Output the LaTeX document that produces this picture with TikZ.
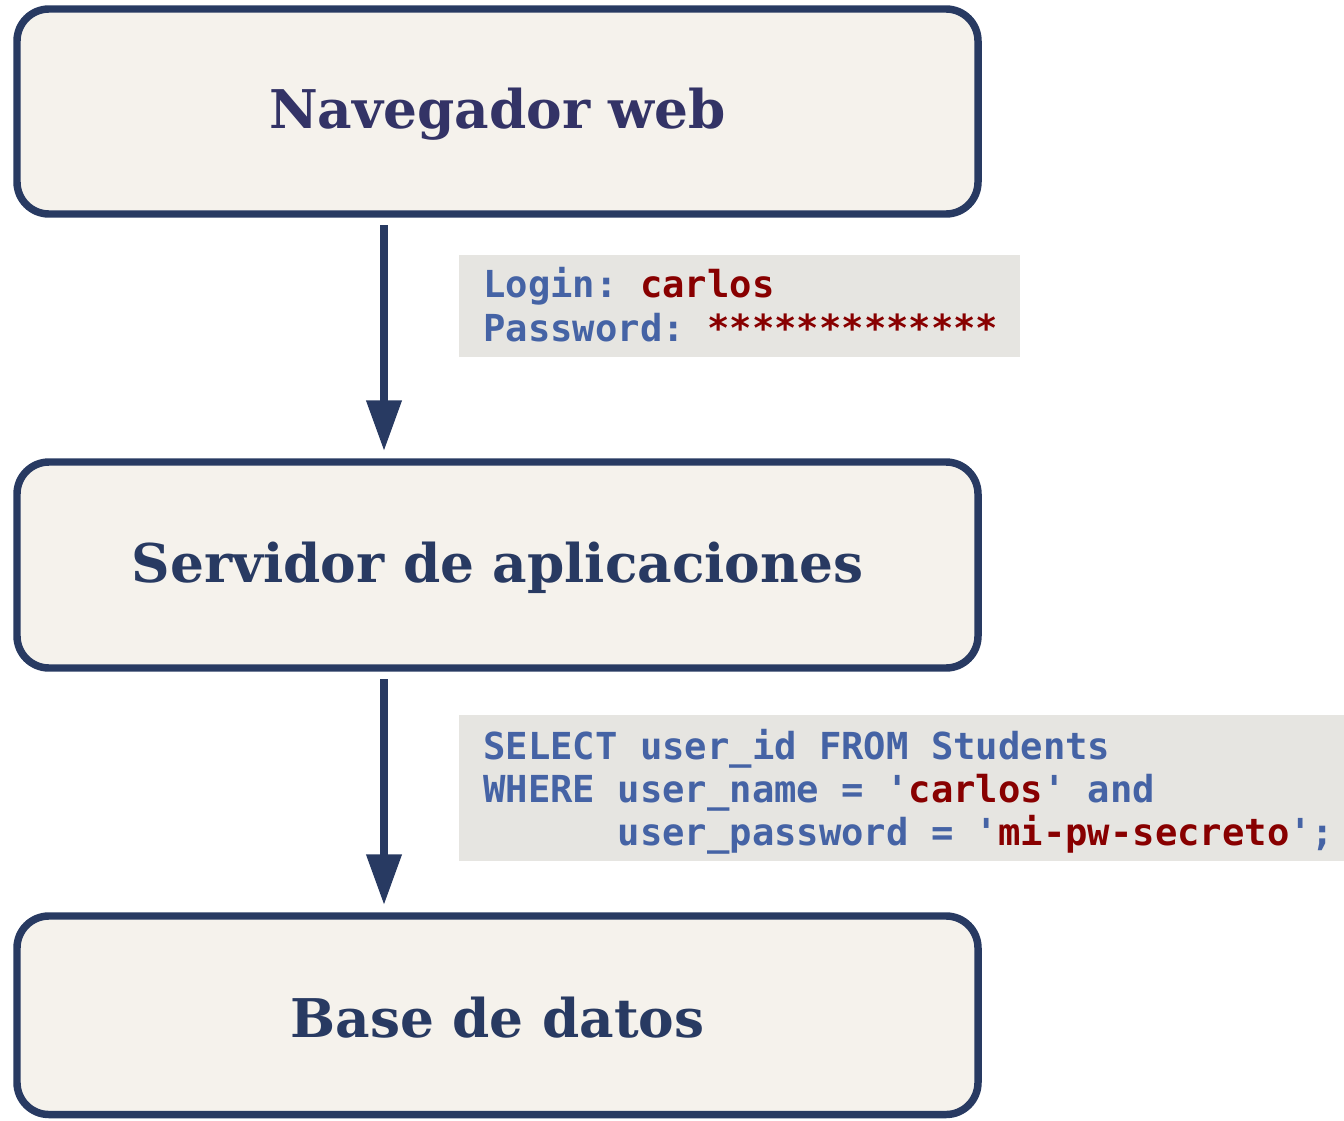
\documentclass[tikz,border=0pt]{standalone}
\usepackage{fontspec}
\setmonofont{DejaVu Sans Mono}
\newfontfamily\stagefont{DejaVu Serif}
\usetikzlibrary{arrows.meta}

\definecolor{edgeblue}{HTML}{283A62}
\definecolor{titlenavy}{HTML}{333366}
\definecolor{stagefill}{HTML}{F5F2EC}
\definecolor{codefill}{HTML}{E6E5E1}
\definecolor{kwblue}{HTML}{4563A5}
\definecolor{strred}{HTML}{880000}

\newcommand{\kw}[1]{\textcolor{kwblue}{#1}}
\newcommand{\lit}[1]{\textcolor{strred}{#1}}

\tikzset{
  stage/.style={draw=edgeblue, fill=stagefill, line width=5.6pt,
    rounded corners=24pt, minimum width=720.75pt, inner sep=0pt,
    text=edgeblue, font=\stagefont\bfseries\fontsize{40}{46}\selectfont},
  label/.style={inner sep=0pt, yshift=-2pt},
  flow/.style={draw=edgeblue, line width=5.6pt,
    -{Triangle[length=38pt, width=25.5pt]},
    shorten <=5.5pt, shorten >=5.5pt},
  codebg/.style={fill=codefill, draw=none, inner sep=0pt, anchor=north west},
  codeline/.style={anchor=base west, inner sep=0pt,
    font=\ttfamily\bfseries\fontsize{27.9}{33}\selectfont}
}

\begin{document}
\begin{tikzpicture}[x=0.75pt, y=-0.75pt]
\useasboundingbox (0,0) rectangle (1344,1120);

% the three tiers
\node[stage, minimum height=153.75pt] (browser) at (497.5,111.5) {};
\node[stage, minimum height=154.5pt] (appserver) at (497.5,565) {};
\node[stage, minimum height=148.9pt] (database) at (497.5,1015.25) {};
\node[label, font=\stagefont\bfseries\fontsize{40}{46}\selectfont, text=titlenavy] (browsertext) at (browser.center) {Navegador web};
\node[label, font=\stagefont\bfseries\fontsize{40}{46}\selectfont, text=edgeblue] (appservertext) at (appserver.center) {Servidor de aplicaciones};
\node[label, font=\stagefont\bfseries\fontsize{40}{46}\selectfont, text=edgeblue] (databasetext) at (database.center) {Base de datos};

% requests between the tiers
\draw[flow] (browser.south -| 384,0) -- (appserver.north -| 384,0);
\draw[flow] (appserver.south -| 384,0) -- (database.north -| 384,0);

% credentials sent by the browser
\node[codebg, minimum width=420.75pt, minimum height=76.5pt] (creds) at (459,255) {};
\node[codeline] (login) at (483,297) {\kw{Login:} \lit{carlos}};
\node[codeline] (passwd) at (483,341) {\kw{Password:} \lit{*************}};

% query built by the application server
\node[codebg, minimum width=663.75pt, minimum height=109.5pt] (query) at (459,715) {};
\node[codeline] (sql1) at (483,759) {\kw{SELECT user\_id FROM Students}};
\node[codeline] (sql2) at (483,802) {\kw{WHERE user\_name = '}\lit{carlos}\kw{' and}};
\node[codeline] (sql3) at (483,845) {\hphantom{WHERE }\kw{user\_password = '}\lit{mi-pw-secreto}\kw{';}};
\end{tikzpicture}
\end{document}
